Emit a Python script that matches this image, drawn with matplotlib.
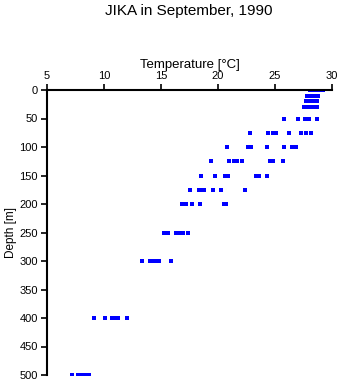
import numpy as np
import matplotlib
matplotlib.use('Agg')
from matplotlib import pyplot as plt

plt.rcParams['font.family'] = ['Liberation Sans', 'DejaVu Sans']

# standard depths [m] and temperatures [degC]
depths = [0, 10, 20, 30, 50, 75, 100, 125, 150, 175, 200, 250, 300, 400, 500]
temps = [
    [28.1, 28.4, 28.6, 28.9, 29.2],
    [27.8, 28.1, 28.3, 28.5, 28.8],
    [27.7, 28.0, 28.3, 28.7],
    [27.5, 27.8, 28.1, 28.4, 28.7],
    [25.8, 27.0, 27.6, 27.8, 28.0, 28.7],
    [22.8, 24.4, 24.8, 25.1, 26.2, 27.3, 27.7, 28.2],
    [20.8, 22.6, 22.9, 24.3, 25.8, 26.5, 26.8],
    [19.4, 21.0, 21.4, 21.7, 22.1, 24.6, 24.8, 25.7],
    [18.5, 19.7, 20.6, 20.9, 23.3, 23.6, 24.3],
    [17.5, 18.3, 18.6, 18.8, 19.6, 20.3, 22.4],
    [16.8, 17.2, 17.7, 18.4, 20.5, 20.7],
    [15.3, 15.6, 16.3, 16.6, 16.9, 17.4],
    [13.3, 14.0, 14.3, 14.6, 14.8, 15.9],
    [9.1, 10.1, 10.7, 11.0, 11.2, 12.0],
    [7.2, 7.7, 8.1, 8.3, 8.7],
]

x = [t for row in temps for t in row]
y = [d for d, row in zip(depths, temps) for t in row]

fig = plt.figure(figsize=(3.41, 3.84), dpi=100)
ax = fig.add_axes([47 / 341, 1 - 375 / 384, 285 / 341, 285 / 384])

ax.plot(x, y, 's', color='#0000ff', markersize=2.2, markeredgewidth=0)

ax.set_xlim(5, 30)
ax.set_ylim(500, 0)
ax.set_xticks([5, 10, 15, 20, 25, 30])
ax.set_yticks(np.arange(0, 501, 50))

ax.spines['bottom'].set_visible(False)
ax.spines['right'].set_visible(False)
for s in ['top', 'left']:
    ax.spines[s].set_linewidth(1.5)
ax.xaxis.tick_top()
ax.xaxis.set_label_position('top')
ax.tick_params(direction='out', length=4.5, width=1.2, labelsize=8, pad=2)

ax.set_xlabel('Temperature [°C]', fontsize=9.5, labelpad=2)
ax.set_ylabel('Depth [m]', fontsize=8.5, labelpad=2)

# title sits well above the axes
fig.text(189 / 341, 1 - 11 / 384, 'JIKA in September, 1990', fontsize=11,
         ha='center', va='center')

fig.savefig('out.png', dpi=100)
